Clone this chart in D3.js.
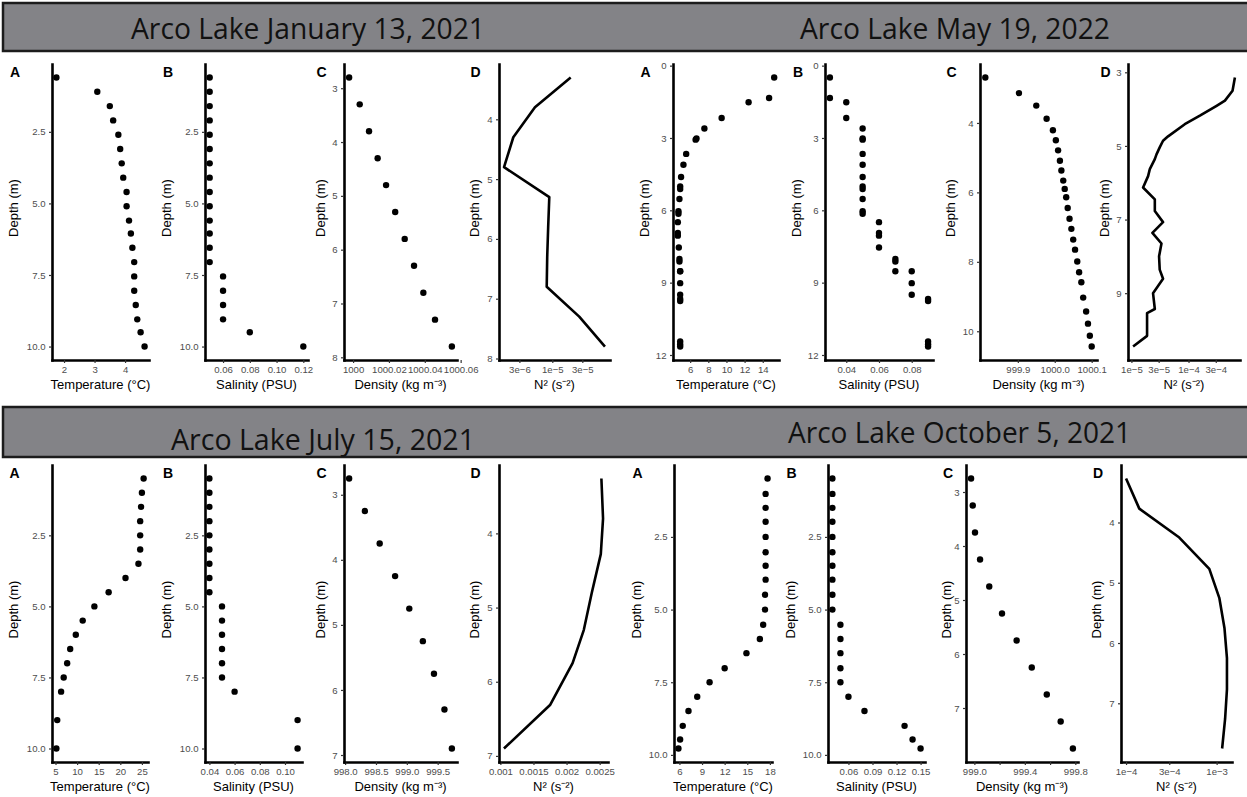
<!DOCTYPE html>
<html>
<head>
<meta charset="utf-8">
<script src="https://d3js.org/d3.v7.min.js"></script>
<title>Arco Lake depth profiles</title>
<style>
  body { margin: 0; background: #fff; }
  text { font-family: "Liberation Sans", Arial, sans-serif; }
</style>
</head>
<body>
<div id="chart"></div>
<script>

// ---- Arco Lake January 13, 2021 ----
var janDepth = [0.6, 1.1, 1.6, 2.1, 2.6, 3.1, 3.6, 4.1, 4.6, 5.1, 5.6, 6.05, 6.55, 7.05, 7.55, 8.05, 8.55, 9.05, 9.5, 10.0];
var janTemp = [1.75, 3.09, 3.50, 3.61, 3.78, 3.84, 3.89, 3.94, 4.05, 4.05, 4.13, 4.19, 4.24, 4.30, 4.30, 4.30, 4.35, 4.40, 4.51, 4.64];
var janSal = [0.05, 0.05, 0.05, 0.05, 0.05, 0.05, 0.05, 0.05, 0.05, 0.05, 0.05, 0.05, 0.05, 0.05, 0.06, 0.06, 0.06, 0.06, 0.08, 0.12];
var janDensDepth = [2.8, 3.3, 3.8, 4.3, 4.8, 5.3, 5.8, 6.3, 6.8, 7.3, 7.8];
var janDens = [999.9978, 1000.0037, 1000.0089, 1000.0137, 1000.0184, 1000.0235, 1000.0288, 1000.034, 1000.0392, 1000.0457, 1000.0551];
var janN2Depth = [3.3, 3.8, 4.3, 4.8, 5.3, 5.8, 6.3, 6.8, 7.3, 7.8];
var janN2 = [1.96e-5, 5.3e-6, 2.4e-6, 1.71e-6, 8.96e-6, 8.6e-6, 8.3e-6, 8.15e-6, 2.68e-5, 6.87e-5];

// ---- Arco Lake May 19, 2022 ----
var mayDepth = [0.49, 1.34, 1.52, 2.17, 2.61, 3.02, 3.07, 3.66, 4.11, 4.62, 5.01, 5.12, 5.53, 6.04, 6.14, 6.49, 6.94, 7.05, 7.54, 8.02, 8.12, 8.53, 8.53, 9.02, 9.5, 9.68, 9.76, 11.44, 11.55, 11.65];
var mayTemp = [15.26, 14.7, 12.44, 9.47, 7.57, 6.7, 6.6, 5.56, 5.26, 5.0, 4.9, 4.9, 4.82, 4.71, 4.71, 4.64, 4.64, 4.64, 4.75, 4.82, 4.82, 4.9, 4.9, 4.9, 4.9, 4.9, 4.9, 4.9, 4.9, 4.9];
var maySal = [0.03, 0.03, 0.04, 0.04, 0.05, 0.05, 0.05, 0.05, 0.05, 0.05, 0.05, 0.05, 0.05, 0.05, 0.05, 0.06, 0.06, 0.06, 0.06, 0.07, 0.07, 0.07, 0.08, 0.08, 0.08, 0.09, 0.09, 0.09, 0.09, 0.09];
var mayDensDepth = [2.69, 3.14, 3.50, 3.88, 4.21, 4.50, 4.79, 5.09, 5.37, 5.66, 5.90, 6.14, 6.45, 6.76, 7.05, 7.36, 7.65, 7.99, 8.30, 8.59, 9.03, 9.43, 9.78, 10.13, 10.44];
var mayDens = [999.812, 999.903, 999.950, 999.978, 999.995, 1000.003, 1000.009, 1000.014, 1000.018, 1000.023, 1000.027, 1000.031, 1000.035, 1000.040, 1000.045, 1000.050, 1000.055, 1000.061, 1000.066, 1000.072, 1000.077, 1000.085, 1000.090, 1000.095, 1000.100];
var mayN2Depth = [3.14, 3.50, 3.77, 3.91, 4.18, 4.41, 4.74, 4.86, 5.04, 5.23, 5.36, 5.63, 5.82, 6.13, 6.45, 6.77, 7.07, 7.36, 7.65, 8.0, 8.36, 8.61, 9.0, 9.43, 9.54, 10.16, 10.45];
var mayN2 = [6.49e-4, 5.9e-4, 4.34e-4, 3.1e-4, 1.58e-4, 8.6e-5, 4.39e-5, 3.58e-5, 3.13e-5, 2.75e-5, 2.57e-5, 2.1e-5, 1.96e-5, 1.6e-5, 2.57e-5, 2.57e-5, 3.58e-5, 2.33e-5, 3.36e-5, 3.05e-5, 3.13e-5, 3.58e-5, 2.39e-5, 2.57e-5, 1.88e-5, 1.88e-5, 1.07e-5];

// ---- Arco Lake July 15, 2021 ----
var julDepth = [0.5, 1.0, 1.5, 2.0, 2.5, 3.0, 3.5, 4.0, 4.5, 5.0, 5.5, 6.0, 6.5, 7.0, 7.5, 8.0, 9.0, 10.0];
var julTemp = [25.4, 25.0, 24.8, 24.6, 24.6, 24.6, 24.2, 21.2, 17.3, 14.0, 11.3, 9.7, 8.4, 7.7, 6.9, 6.3, 5.4, 5.2];
var julSal = [0.04, 0.04, 0.04, 0.04, 0.04, 0.04, 0.04, 0.04, 0.04, 0.05, 0.05, 0.05, 0.05, 0.05, 0.05, 0.06, 0.11, 0.11];
var julDensDepth = [2.75, 3.25, 3.75, 4.25, 4.75, 5.25, 5.75, 6.3, 6.9];
var julDens = [998.065, 998.32, 998.56, 998.81, 999.04, 999.26, 999.44, 999.61, 999.73];
var julN2Depth = [3.26, 3.8, 4.28, 4.8, 5.3, 5.75, 6.31, 6.9];
var julN2 = [0.002526, 0.002551, 0.002517, 0.002381, 0.002261, 0.002091, 0.001754, 0.001054];

// ---- Arco Lake October 5, 2021 ----
var octDepth = [0.49, 1.02, 1.5, 1.98, 2.5, 3.03, 3.49, 3.97, 4.49, 5.0, 5.52, 6.01, 6.5, 7.02, 7.5, 8.0, 8.49, 9.0, 9.47, 9.78];
var octTemp = [17.69, 17.43, 17.43, 17.43, 17.43, 17.43, 17.43, 17.43, 17.35, 17.35, 17.11, 16.67, 14.89, 12.0, 10.0, 8.36, 7.2, 6.44, 6.09, 5.87];
var octSal = [0.04, 0.04, 0.04, 0.04, 0.04, 0.04, 0.04, 0.04, 0.04, 0.04, 0.05, 0.05, 0.05, 0.05, 0.05, 0.06, 0.08, 0.13, 0.14, 0.15];
var octDensDepth = [2.75, 3.25, 3.75, 4.25, 4.75, 5.25, 5.75, 6.25, 6.75, 7.25, 7.75];
var octDens = [998.974, 998.987, 999.005, 999.045, 999.118, 999.219, 999.335, 999.455, 999.574, 999.684, 999.781];
var octN2Depth = [3.27, 3.77, 4.25, 4.77, 5.25, 5.75, 6.25, 6.77, 7.26, 7.75];
var octN2 = [1.0e-4, 1.40e-4, 3.87e-4, 8.3e-4, 1.07e-3, 1.22e-3, 1.30e-3, 1.30e-3, 1.24e-3, 1.15e-3];

// tick labels
var janDepthTicks = ["2.5", "5.0", "7.5", "10.0"];
var janDensDepthTicks = ["3", "4", "5", "6", "7", "8"];
var janN2DepthTicks = ["4", "5", "6", "7", "8"];
var janTempTicks = ["2", "3", "4"];
var janSalTicks = ["0.06", "0.08", "0.10", "0.12"];
var janDensTicks = ["1000", "1000.02", "1000.04", "1000.06"];
var janN2Ticks = ["3e\u22126", "1e\u22125", "3e\u22125"];

var mayDepthTicks = ["0", "3", "6", "9", "12"];
var mayDensDepthTicks = ["4", "6", "8", "10"];
var mayN2DepthTicks = ["3", "5", "7", "9"];
var mayTempTicks = ["6", "8", "10", "12", "14"];
var maySalTicks = ["0.04", "0.06", "0.08"];
var mayDensTicks = ["999.9", "1000.0", "1000.1"];
var mayN2Ticks = ["1e\u22125", "3e\u22125", "1e\u22124", "3e\u22124"];

var julDepthTicks = ["2.5", "5.0", "7.5", "10.0"];
var julDensDepthTicks = ["3", "4", "5", "6", "7"];
var julN2DepthTicks = ["4", "5", "6", "7"];
var julTempTicks = ["5", "10", "15", "20", "25"];
var julSalTicks = ["0.04", "0.06", "0.08", "0.10"];
var julDensTicks = ["998.0", "998.5", "999.0", "999.5"];
var julN2Ticks = ["0.001", "0.0015", "0.002", "0.0025"];

var octDepthTicks = ["2.5", "5.0", "7.5", "10.0"];
var octDensDepthTicks = ["3", "4", "5", "6", "7"];
var octN2DepthTicks = ["4", "5", "6", "7"];
var octTempTicks = ["6", "9", "12", "15", "18"];
var octSalTicks = ["0.06", "0.09", "0.12", "0.15"];
var octDensTicks = ["999.0", "999.2", "999.4", "999.6", "999.8"];
var octN2Ticks = ["1e\u22124", "3e\u22124", "1e\u22123"];

var titles = ["Arco Lake January 13, 2021", "Arco Lake May 19, 2022", "Arco Lake July 15, 2021", "Arco Lake October 5, 2021"];
var xTitles = ["Temperature (\u00b0C)", "Salinity (PSU)", "Density (kg m\u207b\u00b3)", "N\u00b2 (s\u207b\u00b2)"];
var letters = ["A", "B", "C", "D"];

// ---- layout ----
var svg = d3.select("#chart").append("svg")
  .attr("width", 1247).attr("height", 797);

var rows = {
  top: { y0: 64, y1: 360, letterY: 77 },
  bottom: { y0: 465, y1: 762, letterY: 478 }
};

// header bars
var bars = [
  { y: 3, h: 48, texts: [{ x: 131, w: 354, b: 39 }, { x: 800, w: 310, b: 39 }] },
  { y: 407, h: 50, texts: [{ x: 171, w: 304, b: 450 }, { x: 788, w: 343, b: 443 }] }
];
bars.forEach(function (b, bi) {
  svg.append("rect")
    .attr("x", 3).attr("y", b.y).attr("width", 1260).attr("height", b.h)
    .attr("fill", "#838387").attr("stroke", "#1c1c1c").attr("stroke-width", 2.5);
  b.texts.forEach(function (t, ti) {
    svg.append("text")
      .attr("x", t.x).attr("y", t.b)
      .attr("textLength", t.w).attr("lengthAdjust", "spacingAndGlyphs")
      .style("font-family", "'Open Sans', 'Liberation Sans Narrow', sans-serif")
      .style("font-size", "29px")
      .attr("fill", "#111")
      .text(titles[bi * 2 + ti]);
  });
});

function tickNum(s) { return +s.replace("\u2212", "-"); }

var panels = [
  { row: "top", left: 10, x0: 52, x1: 149, depth: janDepth, vals: janTemp, kind: "dot", yt: janDepthTicks, xt: janTempTicks, k: 0 },
  { row: "top", left: 163, x0: 205, x1: 308, depth: janDepth, vals: janSal, kind: "dot", yt: janDepthTicks, xt: janSalTicks, k: 1 },
  { row: "top", left: 316.5, x0: 344, x1: 457, depth: janDensDepth, vals: janDens, kind: "dot", yt: janDensDepthTicks, xt: janDensTicks, k: 2 },
  { row: "top", left: 470.5, x0: 499, x1: 610, depth: janN2Depth, vals: janN2, kind: "line", log: true, yt: janN2DepthTicks, xt: janN2Ticks, k: 3 },

  { row: "top", left: 640.5, x0: 673, x1: 779, depth: mayDepth, vals: mayTemp, kind: "dot", yt: mayDepthTicks, xt: mayTempTicks, k: 0 },
  { row: "top", left: 793, x0: 825, x1: 933, depth: mayDepth, vals: maySal, kind: "dot", yt: mayDepthTicks, xt: maySalTicks, k: 1 },
  { row: "top", left: 946.5, x0: 980, x1: 1097, depth: mayDensDepth, vals: mayDens, kind: "dot", yt: mayDensDepthTicks, xt: mayDensTicks, k: 2 },
  { row: "top", left: 1100.5, x0: 1128, x1: 1240, depth: mayN2Depth, vals: mayN2, kind: "line", log: true, yt: mayN2DepthTicks, xt: mayN2Ticks, k: 3 },

  { row: "bottom", left: 9.5, x0: 52, x1: 148, depth: julDepth, vals: julTemp, kind: "dot", yt: julDepthTicks, xt: julTempTicks, k: 0 },
  { row: "bottom", left: 163, x0: 205, x1: 302, depth: julDepth, vals: julSal, kind: "dot", yt: julDepthTicks, xt: julSalTicks, k: 1 },
  { row: "bottom", left: 316.5, x0: 344, x1: 457, depth: julDensDepth, vals: julDens, kind: "dot", yt: julDensDepthTicks, xt: julDensTicks, k: 2 },
  { row: "bottom", left: 470.5, x0: 499, x1: 608, depth: julN2Depth, vals: julN2, kind: "line", yt: julN2DepthTicks, xt: julN2Ticks, k: 3 },

  { row: "bottom", left: 632.5, x0: 674, x1: 772, depth: octDepth, vals: octTemp, kind: "dot", yt: octDepthTicks, xt: octTempTicks, k: 0 },
  { row: "bottom", left: 786.5, x0: 828, x1: 925, depth: octDepth, vals: octSal, kind: "dot", yt: octDepthTicks, xt: octSalTicks, k: 1 },
  { row: "bottom", left: 943, x0: 966, x1: 1078, depth: octDensDepth, vals: octDens, kind: "dot", yt: octDensDepthTicks, xt: octDensTicks, step: 2, k: 2 },
  { row: "bottom", left: 1093, x0: 1121, x1: 1232, depth: octN2Depth, vals: octN2, kind: "line", log: true, yt: octN2DepthTicks, xt: octN2Ticks, k: 3 }
];

function styleAxis(g) {
  g.select(".domain").attr("stroke", "#000").attr("stroke-width", 2.6).attr("stroke-linecap", "square");
  g.selectAll(".tick line").attr("stroke", "#333").attr("stroke-width", 1.2);
  g.selectAll(".tick text").attr("fill", "#4d4d4d").attr("font-size", 9.6)
    .attr("font-family", "'Liberation Sans', Arial, sans-serif");
}

panels.forEach(function (p) {
  var r = rows[p.row];
  var ye = d3.extent(p.depth), yp = (ye[1] - ye[0]) * 0.05;
  var y = d3.scaleLinear().domain([ye[0] - yp, ye[1] + yp]).range([r.y0, r.y1]);
  var x;
  if (p.log) {
    var le = d3.extent(p.vals, function (v) { return Math.log10(v); });
    var lp = (le[1] - le[0]) * 0.05;
    x = d3.scaleLog().domain([Math.pow(10, le[0] - lp), Math.pow(10, le[1] + lp)]).range([p.x0, p.x1]);
  } else {
    var xe = d3.extent(p.vals), xp = (xe[1] - xe[0]) * 0.05;
    x = d3.scaleLinear().domain([xe[0] - xp, xe[1] + xp]).range([p.x0, p.x1]);
  }
  var g = svg.append("g");
  var idx = d3.range(p.vals.length);

  if (p.kind === "dot") {
    g.selectAll("circle").data(idx).enter().append("circle")
      .attr("cx", function (i) { return x(p.vals[i]); })
      .attr("cy", function (i) { return y(p.depth[i]); })
      .attr("r", 3.2).attr("fill", "#000");
  } else {
    var line = d3.line()
      .x(function (i) { return x(p.vals[i]); })
      .y(function (i) { return y(p.depth[i]); });
    g.append("path").datum(idx).attr("d", line)
      .attr("fill", "none").attr("stroke", "#000").attr("stroke-width", 2.6)
      .attr("stroke-linejoin", "round");
  }

  // x axis
  var xAxis = d3.axisBottom(x)
    .tickValues(p.xt.map(tickNum))
    .tickFormat(function (d, i) { return (p.step && i % p.step) ? "" : p.xt[i]; })
    .tickSize(3).tickSizeOuter(0).tickPadding(3.5);
  g.append("g").attr("transform", "translate(0," + r.y1 + ")").call(xAxis).call(styleAxis);

  // y axis
  var yAxis = d3.axisLeft(y)
    .tickValues(p.yt.map(tickNum))
    .tickFormat(function (d, i) { return p.yt[i]; })
    .tickSize(3).tickSizeOuter(0).tickPadding(3.5);
  g.append("g").attr("transform", "translate(" + p.x0 + ",0)").call(yAxis).call(styleAxis);

  // titles
  g.append("text")
    .attr("x", (p.x0 + p.x1) / 2).attr("y", r.y1 + 28.5)
    .attr("text-anchor", "middle").attr("font-size", 13).attr("fill", "#000")
    .text(xTitles[p.k]);
  g.append("text")
    .attr("transform", "translate(" + (p.left + 8) + "," + ((r.y0 + r.y1) / 2 - 4) + ") rotate(-90)")
    .attr("text-anchor", "middle").attr("font-size", 13).attr("fill", "#000")
    .text("Depth (m)");
  g.append("text")
    .attr("x", p.left).attr("y", r.letterY)
    .attr("font-size", 14).attr("font-weight", "bold").attr("fill", "#000")
    .text(letters[p.k]);
});

</script>
</body>
</html>
